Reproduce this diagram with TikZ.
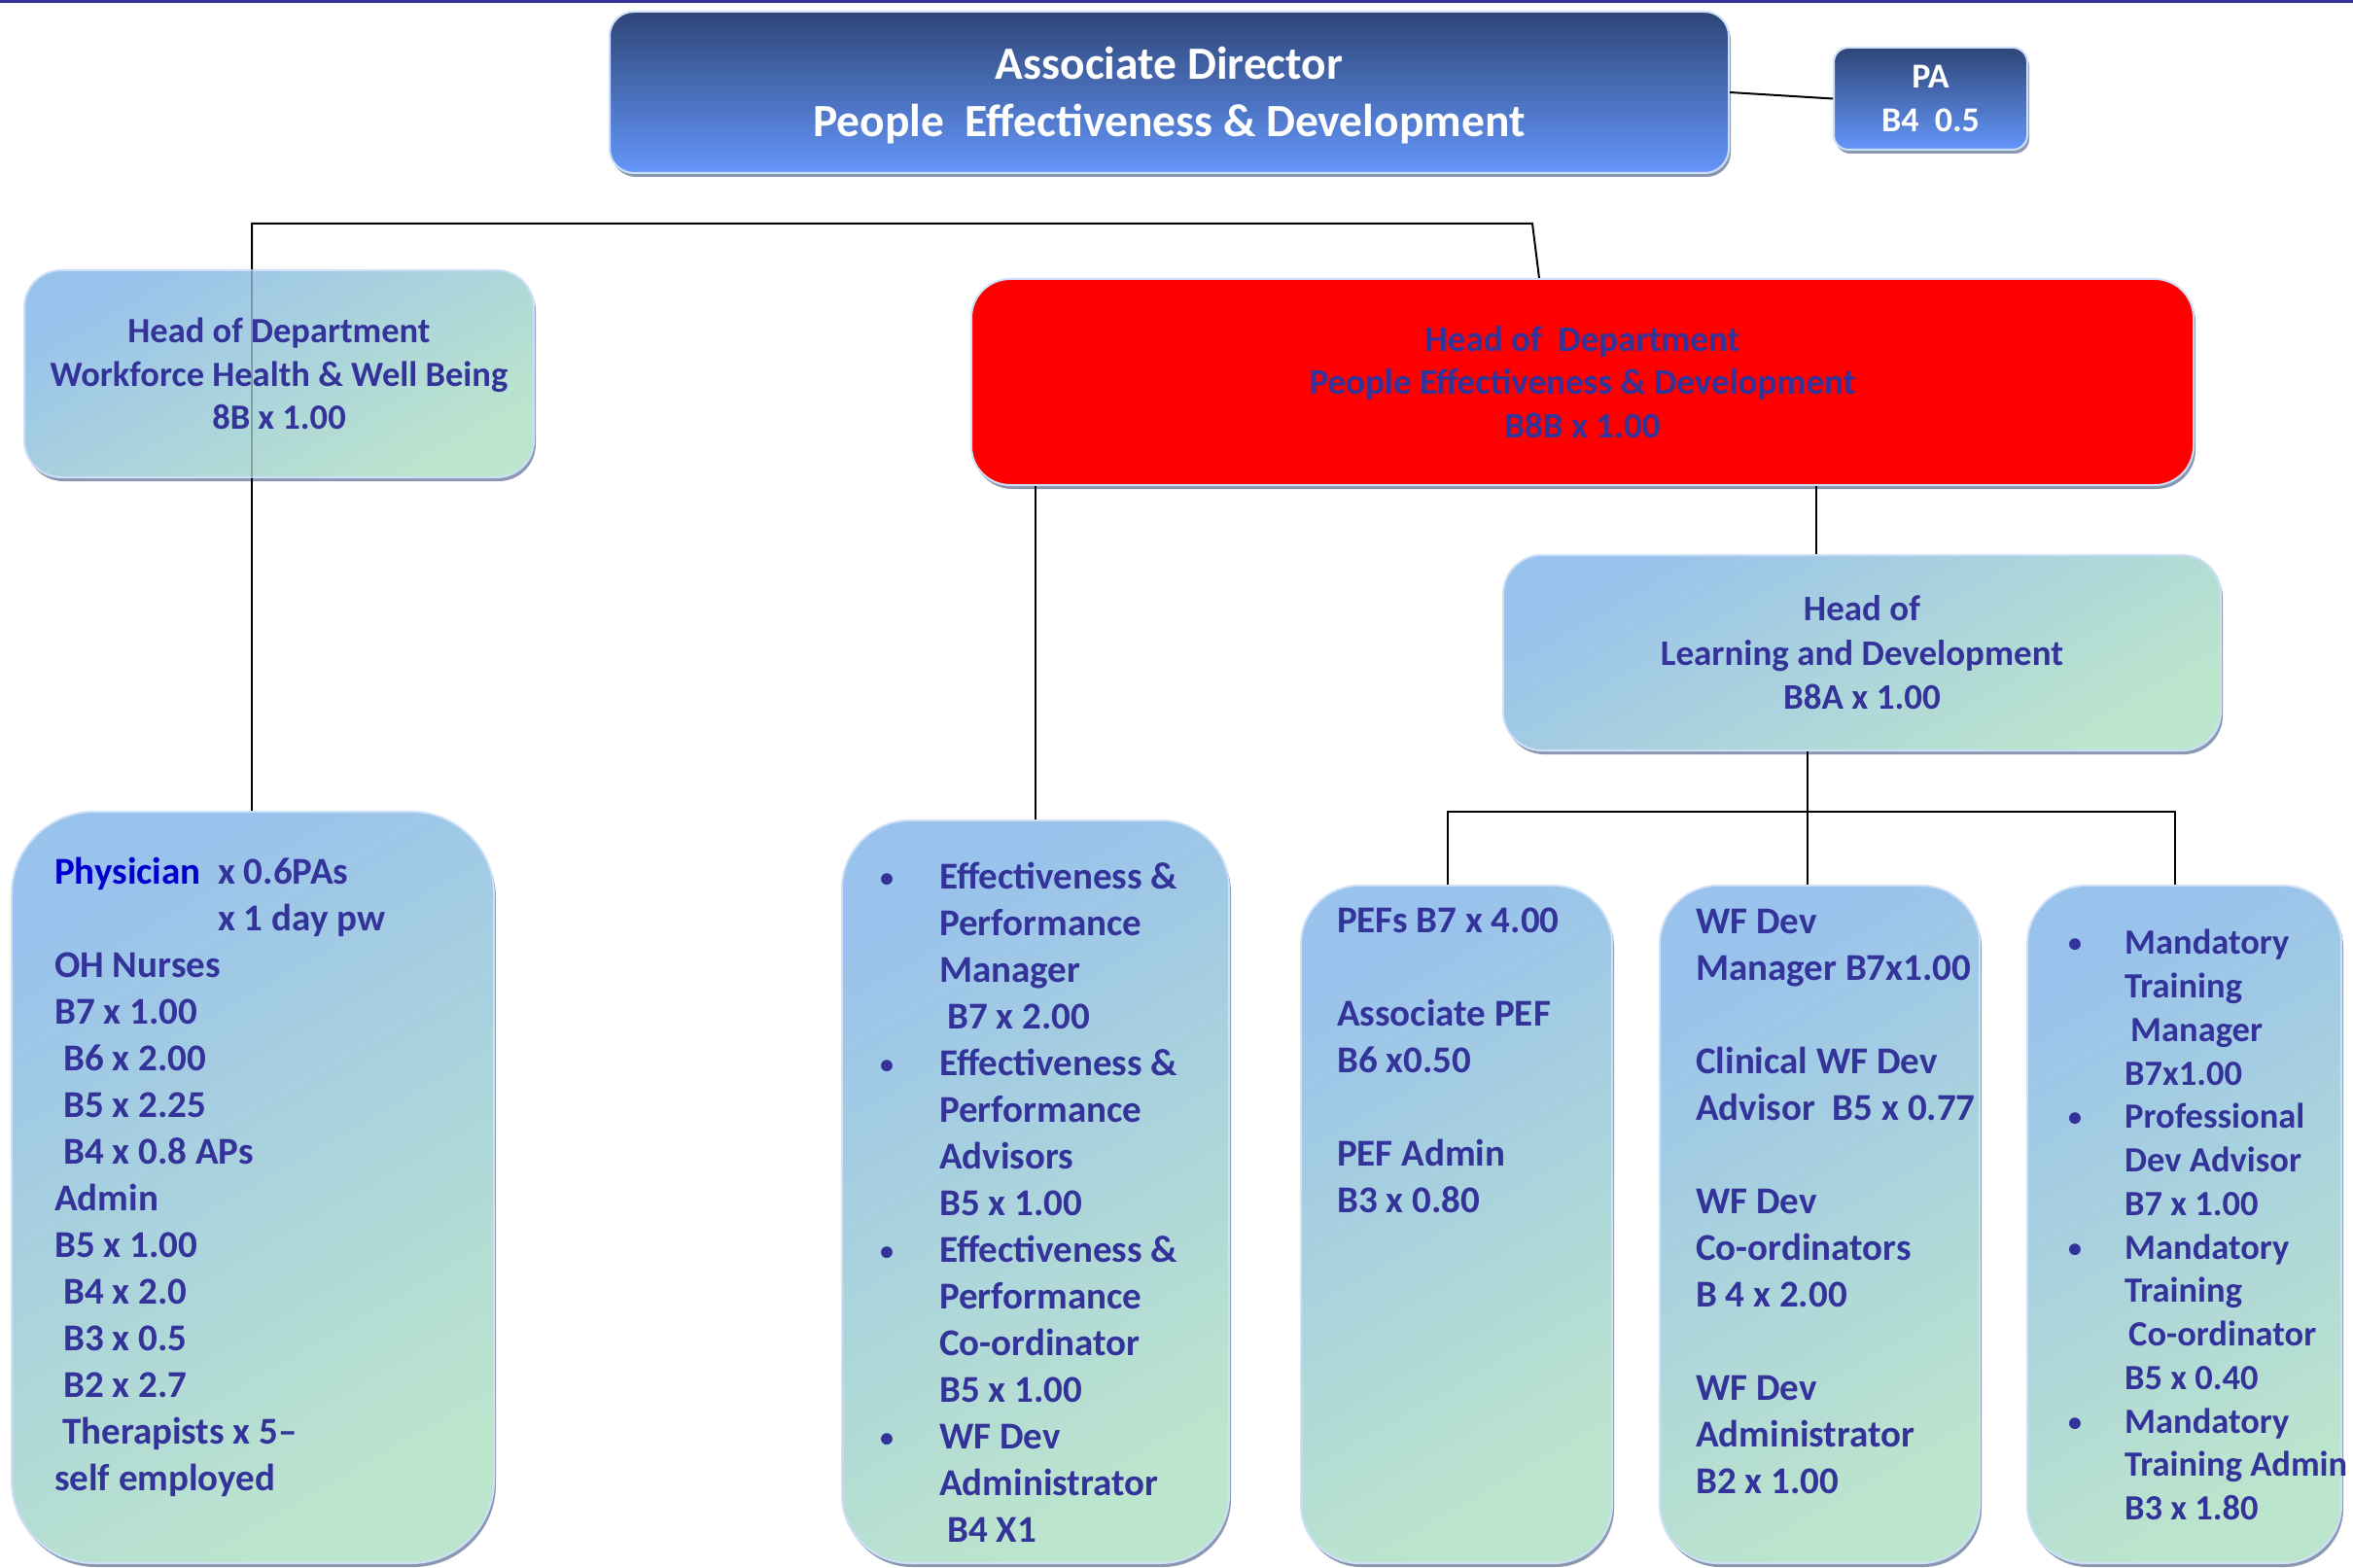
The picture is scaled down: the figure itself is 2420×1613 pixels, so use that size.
\documentclass[tikz,border=0pt]{standalone}
\usepackage{fontspec}
\setmainfont{Carlito}
\usetikzlibrary{shadows}

\definecolor{navytext}{RGB}{51,51,153}
\definecolor{physblue}{RGB}{0,0,204}
\definecolor{boxtop}{RGB}{153,194,236}
\definecolor{boxbot}{RGB}{188,229,205}
\definecolor{boxrim}{RGB}{205,224,248}
\definecolor{boxshadow}{RGB}{140,152,178}
\definecolor{adtop}{RGB}{46,70,120}
\definecolor{adbot}{RGB}{100,150,250}

\newcommand\blt[1]{\makebox[#1][l]{\hspace*{3pt}\raisebox{2pt}{\fontsize{28}{28}\selectfont\textbullet}}}
\newcommand\indt[1]{\hspace*{#1}}

\begin{document}
\begin{tikzpicture}[x=1pt, y=-1pt,
    conn/.style={line width=2pt},
    box/.style={rounded corners=#1, top color=boxtop, bottom color=boxbot, shading angle=30,
        draw=boxrim, line width=2pt, inner sep=0pt,
        drop shadow={shadow xshift=2pt, shadow yshift=-4pt, fill=boxshadow, opacity=1}},
    adbox/.style={rounded corners=#1, top color=adtop, bottom color=adbot,
        draw=boxrim, line width=2pt, inner sep=0pt, text=white, align=center,
        drop shadow={shadow xshift=2pt, shadow yshift=-4pt, fill=boxshadow, opacity=1}},
    txt/.style={text=navytext, align=left, anchor=north west, inner sep=0pt,
        font=\bfseries\fontsize{39}{48}\selectfont}
]
    \useasboundingbox (0,0) rectangle (2420,1613);
    \draw[navytext, line width=3.5pt] (0,1.75) -- (2420,1.75);

    % top row
    \node[adbox=25pt, minimum width=1151pt, minimum height=166pt,
        font=\bfseries\fontsize{47.5}{59}\selectfont] (ad) at (1202.5,95)
        {\rule{0pt}{40pt}Associate Director\\People\ \ Effectiveness \& Development};
    \node[adbox=15pt, minimum width=199pt, minimum height=105pt,
        font=\bfseries\fontsize{36}{45}\selectfont] (pa) at (1985.5,101.5)
        {PA\\B4\ \ 0.5};

    % heads of department
    \node[box=38pt, minimum width=524pt, minimum height=213pt, text=navytext, align=center,
        font=\bfseries\fontsize{36.5}{44.5}\selectfont] (whwb) at (287,384.5)
        {Head of Department\\Workforce Health \& Well Being\\8B x 1.00};
    \node[rounded corners=40pt, fill=red, draw=boxrim, line width=2pt, inner sep=0pt,
        drop shadow={shadow xshift=2pt, shadow yshift=-4pt, fill=boxshadow, opacity=1},
        minimum width=1257pt, minimum height=212pt, text=navytext, align=center,
        font=\bfseries\fontsize{37}{44.5}\selectfont] (red) at (1627.5,393)
        {Head of\ \ Department\\People Effectiveness \& Development\\B8B x 1.00};
    \node[box=40pt, minimum width=738pt, minimum height=201pt, text=navytext, align=center,
        font=\bfseries\fontsize{37}{45.5}\selectfont] (ld) at (1915,671.5)
        {Head of\\Learning and Development\\B8A x 1.00};

    % staff boxes
    \node[box=85pt, minimum width=496pt, minimum height=773pt] (oh) at (260,1221.5) {};
    \node[box=70pt, minimum width=398pt, minimum height=764pt] (ep) at (1065,1226) {};
    \node[box=60pt, minimum width=320pt, minimum height=697pt] (pef) at (1498,1259.5) {};
    \node[box=60pt, minimum width=329pt, minimum height=697pt] (wf) at (1871.5,1259.5) {};
    \node[box=60pt, minimum width=323pt, minimum height=697pt] (mand) at (2246.5,1259.5) {};

    \node[txt] (ohtxt) at (56,882) {{\color{physblue}Physician}\ \ x 0.6PAs\\
        \hphantom{Physician\ \ }x 1 day pw\\
        OH Nurses\\
        B7 x 1.00\\
        \indt{9pt}B6 x 2.00\\
        \indt{9pt}B5 x 2.25\\
        \indt{9pt}B4 x 0.8 APs\\
        Admin\\
        B5 x 1.00\\
        \indt{9pt}B4 x 2.0\\
        \indt{9pt}B3 x 0.5\\
        \indt{9pt}B2 x 2.7\\
        \indt{8pt}Therapists x 5--\\
        self employed};
    \node[txt] (eptxt) at (902,887) {\blt{64pt}Effectiveness \&\\
        \indt{64pt}Performance\\
        \indt{64pt}Manager\\
        \indt{72pt}B7 x 2.00\\
        \blt{64pt}Effectiveness \&\\
        \indt{64pt}Performance\\
        \indt{64pt}Advisors\\
        \indt{64pt}B5 x 1.00\\
        \blt{64pt}Effectiveness \&\\
        \indt{64pt}Performance\\
        \indt{64pt}Co-ordinator\\
        \indt{64pt}B5 x 1.00\\
        \blt{64pt}WF Dev\\
        \indt{64pt}Administrator\\
        \indt{72pt}B4 X1};
    \node[txt] (peftxt) at (1375,934) {PEFs B7 x 4.00\\[48pt]
        Associate PEF\\
        B6 x0.50\\[48pt]
        PEF Admin\\
        B3 x 0.80};
    \node[txt] (wftxt) at (1744,935) {WF Dev\\
        Manager B7x1.00\\[48pt]
        Clinical WF Dev\\
        Advisor\ \ B5 x 0.77\\[48pt]
        WF Dev\\
        Co-ordinators\\
        B 4 x 2.00\\[48pt]
        WF Dev\\
        Administrator\\
        B2 x 1.00};
    \node[txt, font=\bfseries\fontsize{36.5}{44.75}\selectfont] (mandtxt) at (2124,956)
        {\blt{61pt}Mandatory\\
        \indt{61pt}Training\\
        \indt{67pt}Manager\\
        \indt{61pt}B7x1.00\\
        \blt{61pt}Professional\\
        \indt{61pt}Dev Advisor\\
        \indt{61pt}B7 x 1.00\\
        \blt{61pt}Mandatory\\
        \indt{61pt}Training\\
        \indt{65pt}Co-ordinator\\
        \indt{61pt}B5 x 0.40\\
        \blt{61pt}Mandatory\\
        \indt{61pt}Training Admin\\
        \indt{61pt}B3 x 1.80};

    % connectors
    \coordinate (j1) at (259,230);
    \coordinate (j2) at (1576,230);
    \coordinate (j3) at (1859,835);
    \draw[conn] (ad.east) -- (pa.west);
    \draw[conn] (j1 |- whwb.north) -- (j1) -- (j2) -- ([xshift=-44.5pt]red.north);
    \draw[conn, draw opacity=.25] (j1 |- whwb.north) -- (j1 |- whwb.south);
    \draw[conn] (j1 |- whwb.south) -- (j1 |- oh.north);
    \draw[conn] (ep.north) -- (ep.north |- red.south);
    \draw[conn] ([xshift=-47pt]ld.north) -- ([xshift=-47pt]ld.north |- red.south);
    \draw[conn] (j3 |- ld.south) -- (j3);
    \draw[conn] ([xshift=-9pt]pef.north) -- ([xshift=-9pt]pef.north |- j3)
        -- ([xshift=-10pt]mand.north |- j3) -- ([xshift=-10pt]mand.north);
    \draw[conn] (j3) -- (j3 |- wf.north);
\end{tikzpicture}
\end{document}
